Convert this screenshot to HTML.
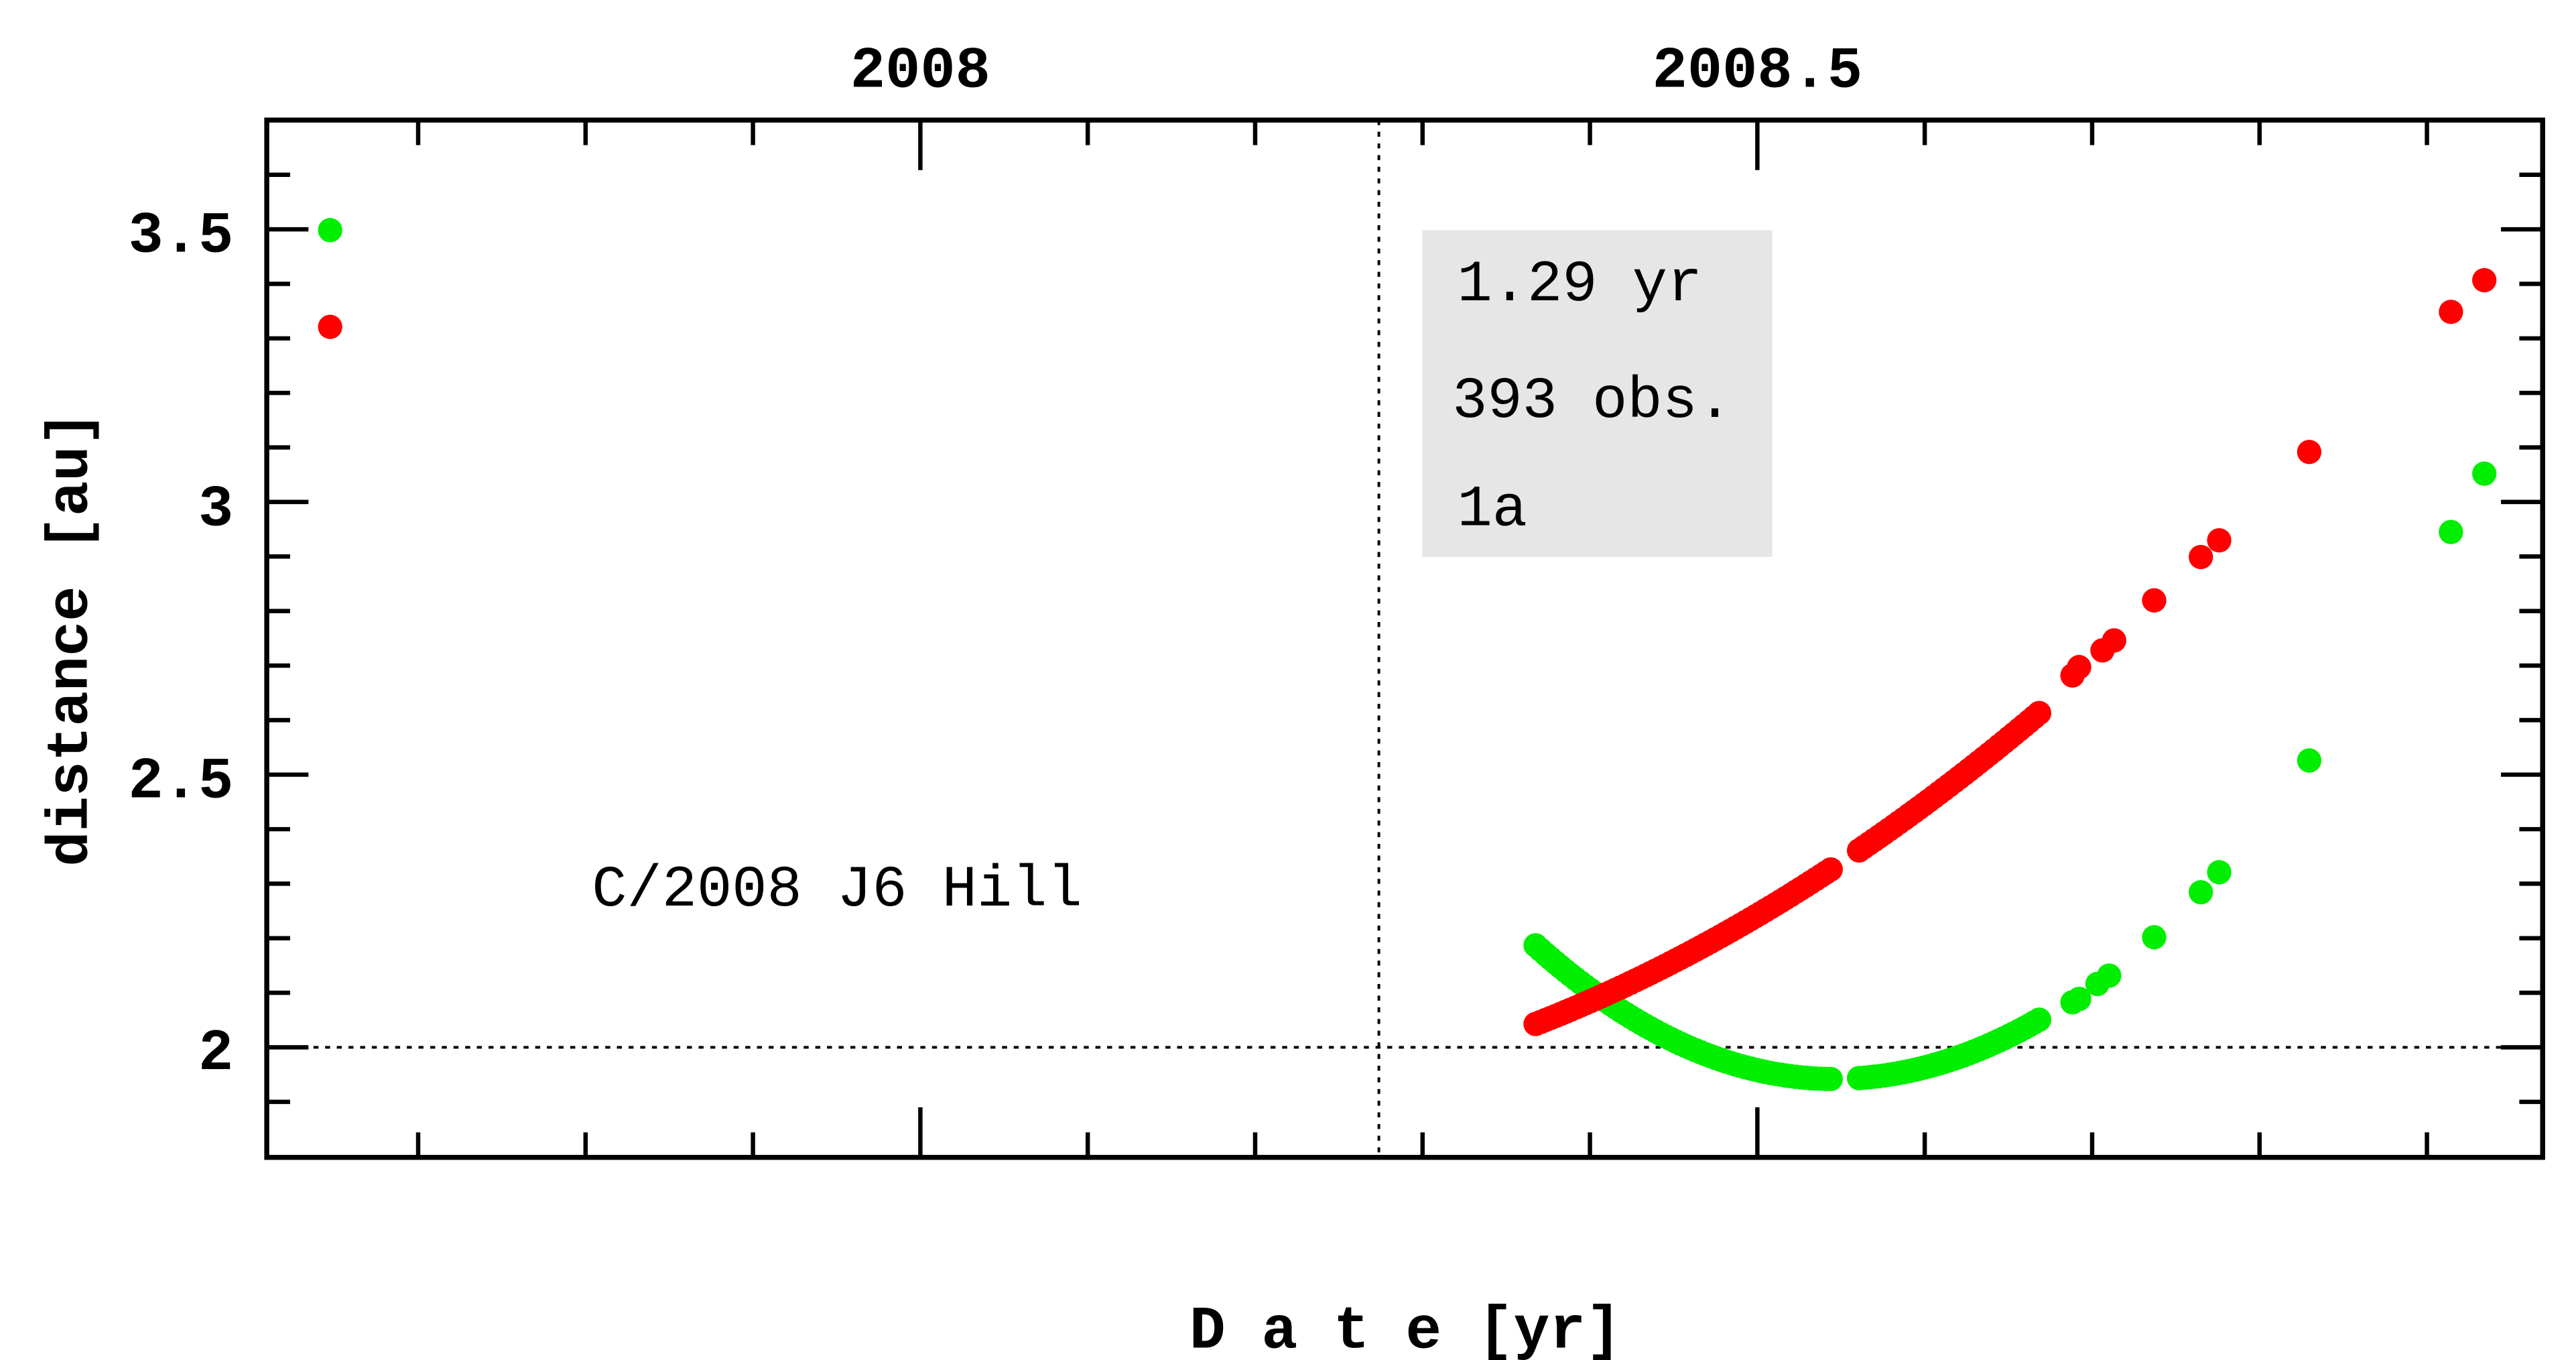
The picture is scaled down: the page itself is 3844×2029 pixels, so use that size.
<!DOCTYPE html>
<html><head><meta charset="utf-8"><style>
html,body{margin:0;padding:0;background:#fff;}
svg{display:block;}
text{font-family:"Liberation Mono",monospace;}
</style></head><body>
<svg id="s" width="3844" height="2029" viewBox="0 0 1545 815.5" preserveAspectRatio="none" xmlns="http://www.w3.org/2000/svg">
<rect x="853" y="138" width="210" height="196" fill="#e6e6e6"/>
<line x1="827" y1="72" x2="827" y2="694" stroke="#000" stroke-width="1.6" stroke-dasharray="3,4"/>
<line x1="160" y1="628" x2="1525" y2="628" stroke="#000" stroke-width="1.6" stroke-dasharray="3,4"/>
<g id="dots"></g>
<g id="ticks" stroke="#000" stroke-width="2.6"></g>
<rect x="160" y="72" width="1365" height="622" fill="none" stroke="#000" stroke-width="3"/>
<g font-size="35" font-weight="bold" text-anchor="middle">
<text x="552" y="52">2008</text>
<text x="1054" y="52">2008.5</text>
</g>
<g font-size="35" font-weight="bold" text-anchor="end">
<text x="140" y="151">3.5</text>
<text x="140" y="315">3</text>
<text x="140" y="478">2.5</text>
<text x="140" y="641">2</text>
</g>
<text transform="translate(52,383) rotate(-90)" font-size="35" font-weight="bold" text-anchor="middle">distance [au]</text>
<text x="843" y="808" font-size="36" font-weight="bold" text-anchor="middle">D a t e [yr]</text>
<g font-size="35">
<text x="874" y="180">1.29 yr</text>
<text x="871" y="250">393 obs.</text>
<text x="874" y="315">1a</text>
<text x="355" y="543">C/2008 J6 Hill</text>
</g>
</svg>
<script>
var NS="http://www.w3.org/2000/svg";
var t=document.getElementById("ticks"),d=document.getElementById("dots");
function L(a,b,c,e){var l=document.createElementNS(NS,"line");l.setAttribute("x1",a);l.setAttribute("y1",b);l.setAttribute("x2",c);l.setAttribute("y2",e);t.appendChild(l);}
for(var i=-3;i<=9;i++){var x=552+i*100.4,len=(i==0||i==5)?30:15;L(x,694,x,694-len);L(x,72,x,72+len);}
for(var j=-2;j<=17;j++){var y=628-j*32.7,len=(j%5==0)?25:14;if(y<74||y>692)continue;L(160,y,160+len,y);L(1525,y,1525-len,y);}
function C(x,y,col){var c=document.createElementNS(NS,"circle");c.setAttribute("cx",x);c.setAttribute("cy",y);c.setAttribute("r",7.3);c.setAttribute("fill",col);d.appendChild(c);}
function g(x){return x<1100?647-0.0025*(x-1100)*(x-1100):647-0.00235*(x-1100)*(x-1100);}
function r(x){var u=x-921;return 614-0.3906*u-0.000751*u*u;}
var xs=[];
for(var x=921;x<=1100;x+=3)xs.push(x);
for(var x=1115;x<=1225;x+=3)xs.push(x);
xs.forEach(function(x){C(x,g(x),"#00ee00");});
xs.forEach(function(x){C(x,r(x),"#ff0000");});
[[1243,601],[1247,599],[1258,590],[1265,585],[1292,562],[1320,535],[1331,523],[1385,456],[1470,319],[1490,284],[198,138]].forEach(function(p){C(p[0],p[1],"#00ee00");});
[[1243,405],[1247,400],[1261,390],[1268,384],[1292,360],[1320,334],[1331,324],[1385,271],[1470,187],[1490,168],[198,196]].forEach(function(p){C(p[0],p[1],"#ff0000");});
</script>
</body></html>
